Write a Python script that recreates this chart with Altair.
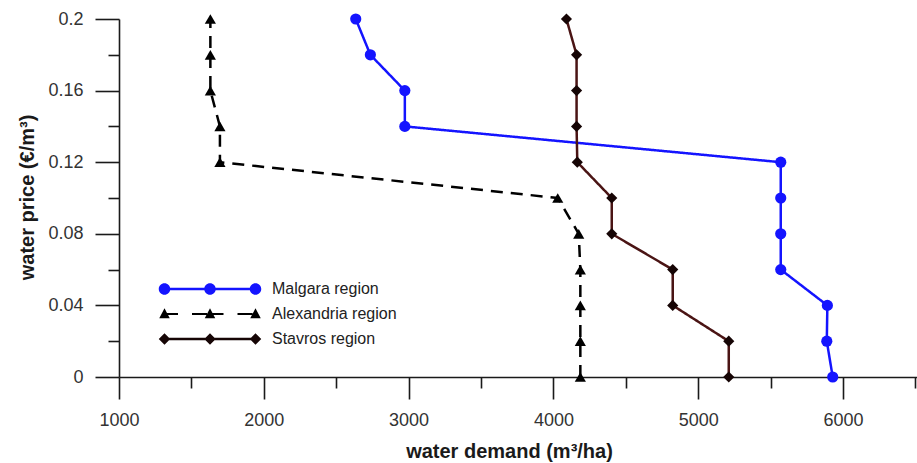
import altair as alt
import pandas as pd

# ---- data ----
prices = [0.0, 0.02, 0.04, 0.06, 0.08, 0.10, 0.12, 0.14, 0.16, 0.18, 0.20]
malgara = [5929, 5888, 5892, 5570, 5570, 5570, 5570, 2974, 2974, 2736, 2635]
alexandria = [4186, 4186, 4186, 4186, 4175, 4030, 1697, 1697, 1631, 1631, 1631]
stavros = [5211, 5211, 4824, 4824, 4403, 4403, 4165, 4160, 4160, 4160, 4090]
regions = ["Malgara region", "Alexandria region", "Stavros region"]

x_major = [1000, 2000, 3000, 4000, 5000, 6000]
x_minor = [1500, 2500, 3500, 4500, 5500, 6500]
y_major = [0, 0.04, 0.08, 0.12, 0.16, 0.2]
y_minor = [0.02, 0.06, 0.10, 0.14, 0.18]

rows = []
for name, vals in zip(regions, [malgara, alexandria, stavros]):
    for p, d in zip(prices, vals):
        rows.append({"region": name, "price": p, "demand": d})
df = pd.DataFrame(rows)

BLUE = "#1414ff"
BLACK = "#000000"
BROWN = "#4a1414"
DARK = "#160505"
FONT = "Liberation Sans"
AX = "#1a1a1a"


# ---- legend glyphs (line sample with three markers); 1 unit = 5 px ----
def circle(cx, r):
    return f"M{cx-r:.3f},0A{r:.3f},{r:.3f} 0 1,1 {cx+r:.3f},0A{r:.3f},{r:.3f} 0 1,1 {cx-r:.3f},0Z"


def rect(x1, x2, h):
    return f"M{x1:.3f},{-h:.3f}L{x2:.3f},{-h:.3f}L{x2:.3f},{h:.3f}L{x1:.3f},{h:.3f}Z"


def tri(cx, s):
    return f"M{cx:.3f},{-s*1.1:.3f}L{cx+s:.3f},{s*0.8:.3f}L{cx-s:.3f},{s*0.8:.3f}Z"


def diamond(cx, s):
    return f"M{cx:.3f},{-s:.3f}L{cx+s:.3f},0L{cx:.3f},{s:.3f}L{cx-s:.3f},0Z"


M = 9.1
glyph_m = rect(-M, M, 0.27) + "".join(circle(c, 1.15) for c in (-M, 0, M))
glyph_a = "".join(rect(a, b, 0.22) for a, b in [(-8.6, -6.4), (-3.6, -0.6), (0.5, 2.7), (5.5, 8.5)]) \
    + "".join(tri(c, 1.05) for c in (-M, 0, M))
glyph_s = rect(-M, M, 0.25) + "".join(diamond(c, 1.15) for c in (-M, 0, M))

x_scale = alt.Scale(domain=[1000, 6511], nice=False, zero=False)
y_scale = alt.Scale(domain=[0, 0.2], nice=False, zero=False)

common = dict(grid=False, domainColor=AX, tickColor=AX, domainWidth=1.6, tickWidth=1.6,
              labelFont=FONT, labelFontSize=18, labelColor="#333333")

x_axis_major = alt.Axis(values=x_major, tickSize=22, format="d", labelPadding=12, orient="bottom",
                        labelFlush=False, labelOverlap=False,
                        title="water demand (m³/ha)", titleFont=FONT, titleFontSize=20,
                        titleFontWeight="bold", titleColor=AX, titleX=390, titleY=80,
                        titleBaseline="alphabetic", titleAlign="center", **common)
y_axis_major = alt.Axis(values=y_major, tickSize=24, format=".2~f", labelPadding=12, orient="left",
                        labelFlush=False, labelOverlap=False,
                        title="water price (€/m³)", titleFont=FONT, titleFontSize=20,
                        titleFontWeight="bold", titleColor=AX, titleX=-86, titleY=178,
                        titleAngle=270, titleBaseline="alphabetic", titleAlign="center", **common)
x_axis_minor = alt.Axis(values=x_minor, tickSize=11, labels=False, domain=False, title=None,
                        orient="bottom", grid=False, tickColor=AX, tickWidth=1.6)
y_axis_minor = alt.Axis(values=y_minor, tickSize=11, labels=False, domain=False, title=None,
                        orient="left", grid=False, tickColor=AX, tickWidth=1.6)

lines = alt.Chart(df).mark_line(strokeWidth=2.5).encode(
    x=alt.X("demand:Q", scale=x_scale, axis=x_axis_major),
    y=alt.Y("price:Q", scale=y_scale, axis=y_axis_major),
    stroke=alt.Stroke("region:N", scale=alt.Scale(domain=regions, range=[BLUE, BLACK, BROWN]), legend=None),
    strokeDash=alt.StrokeDash("region:N", scale=alt.Scale(domain=regions, range=[[1, 0], [12, 8], [1, 0]]),
                              legend=None),
    order="price:Q",
)

points = alt.Chart(df).mark_point(filled=True, opacity=1, size=125).encode(
    x=alt.X("demand:Q", scale=x_scale, axis=None),
    y=alt.Y("price:Q", scale=y_scale, axis=None),
    fill=alt.Fill("region:N", scale=alt.Scale(domain=regions, range=[BLUE, BLACK, DARK]), legend=None),
    shape=alt.Shape("region:N", scale=alt.Scale(domain=regions, range=["circle", "triangle-up", "diamond"]),
                    legend=None),
)

leg = alt.Legend(orient="none", legendX=83, legendY=262, title=None, padding=0,
                 symbolSize=100, symbolStrokeWidth=0, symbolOpacity=1,
                 labelFont=FONT, labelFontSize=16, labelColor="#222222",
                 labelOffset=54, rowPadding=9, labelLimit=300)

legend_layer = alt.Chart(df).mark_point(filled=True, opacity=0).encode(
    x=alt.X("demand:Q", scale=x_scale, axis=x_axis_minor),
    y=alt.Y("price:Q", scale=y_scale, axis=y_axis_minor),
    color=alt.Color("region:N", scale=alt.Scale(domain=regions, range=[BLUE, BLACK, DARK]), legend=leg),
    shape=alt.Shape("region:N", scale=alt.Scale(domain=regions, range=[glyph_m, glyph_a, glyph_s]), legend=leg),
)

chart = alt.layer(legend_layer, lines, points).resolve_scale(
    shape="independent", color="independent"
).resolve_axis(
    x="independent", y="independent"
).properties(
    width=798, height=358,
    autosize=alt.AutoSizeParams(type="none"),
    padding={"left": 119, "top": 19, "right": 0, "bottom": 86},
    background="white",
).configure_view(stroke=None)

chart.save("out.html", embed_options={"renderer": "svg", "actions": False})
